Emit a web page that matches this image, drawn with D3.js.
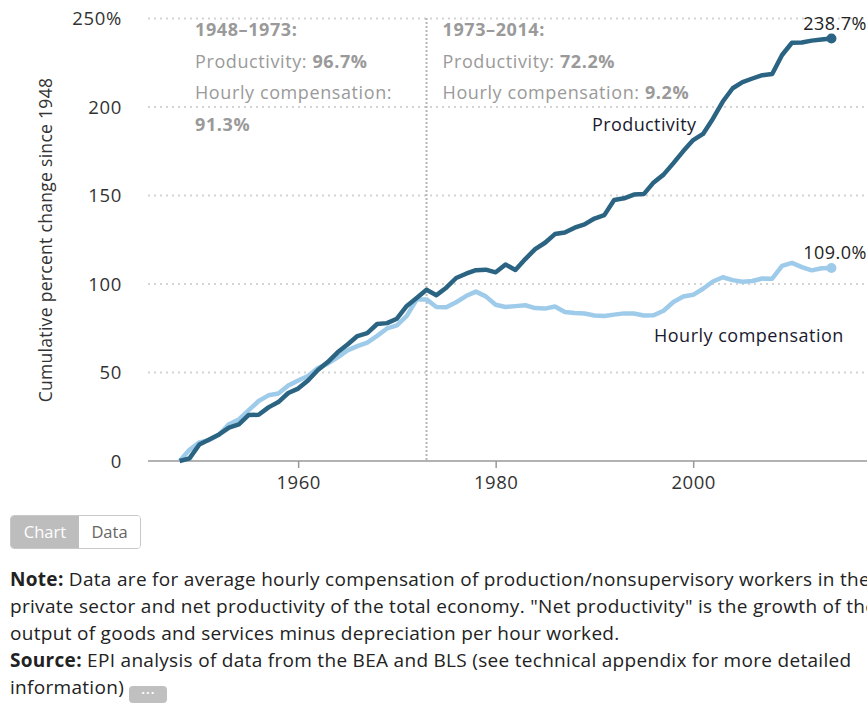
<!DOCTYPE html>
<html>
<head>
<meta charset="utf-8">
<script src="https://cdn.jsdelivr.net/npm/d3@7"></script>
<style>
  body { margin: 0; background: #fff; overflow: hidden; width: 867px; height: 706px; font-family: "Open Sans", sans-serif; }
  #canvas { position: absolute; left: 0; top: 0; }
  .toggle { position: absolute; left: 10px; top: 515px; height: 32px; border: 1px solid #c8c8c8; border-radius: 4px; overflow: hidden; display: flex; font-size: 16.5px; }
  .toggle span { display: block; line-height: 32px; text-align: center; }
  .toggle .on { background: #bdbdbd; color: #fff; width: 68px; }
  .toggle .off { background: #fff; color: #666; width: 61px; }
  .notes { position: absolute; left: 10px; top: 566px; font-size: 19px; letter-spacing: 0.3px; color: #222; line-height: 27px; white-space: nowrap; }
  .notes p { margin: 0; }
  .dots { display: inline-block; width: 38px; height: 17px; background: #c0c0c0; border-radius: 4px; vertical-align: -3px; color: #fff; font-size: 13px; line-height: 13px; text-align: center; letter-spacing: 1px; font-weight: bold; }
</style>
</head>
<body>
<div id="canvas"></div>
<div class="toggle"><span class="on">Chart</span><span class="off">Data</span></div>
<div class="notes">
  <p><b>Note:</b> Data are for average hourly compensation of production/nonsupervisory workers in the<br>private sector and net productivity of the total economy. "Net productivity" is the growth of the<br>output of goods and services minus depreciation per hour worked.</p>
  <p><b>Source:</b> EPI analysis of data from the BEA and BLS (see technical appendix for more detailed<br>information) <span class="dots">···</span></p>
</div>
<script>
// data
const years = d3.range(1948, 2015);
const productivity = [0, 1.5, 9.3, 12.1, 15.0, 18.9, 20.7, 26.0, 26.1, 30.3, 33.3, 38.4, 40.9, 45.5, 51.4, 55.9, 61.4, 65.8, 70.6, 72.2,
  77.4, 77.9, 80.4, 87.6, 92.1, 96.7, 93.7, 97.9, 103.4, 105.8, 107.8, 108.1, 106.6, 111.0, 107.9, 114.1, 119.7, 123.3, 128.2, 129.1,
  131.8, 133.7, 137.0, 138.9, 147.5, 148.4, 150.5, 150.8, 157.4, 161.8, 168.3, 175.1, 181.3, 184.8, 193.4, 203.1, 210.6, 214.1, 216.1,
  218.0, 218.6, 229.4, 236.3, 236.4, 237.5, 238.1, 238.7];
const compensation = [0, 6.3, 10.5, 11.8, 15.0, 20.8, 23.5, 28.7, 33.9, 37.1, 38.1, 42.6, 45.5, 48.0, 52.5, 55.0, 58.5, 62.5, 64.9, 66.9,
  70.7, 74.9, 76.6, 82.0, 91.2, 91.3, 87.0, 86.9, 89.7, 93.2, 95.7, 93.0, 88.3, 87.0, 87.5, 88.0, 86.4, 86.1, 87.3, 84.2,
  83.6, 83.3, 82.2, 81.9, 82.7, 83.4, 83.3, 82.2, 82.3, 84.9, 89.8, 92.9, 93.9, 97.3, 101.4, 103.8, 102.2, 101.3, 101.7,
  103.1, 103.0, 110.2, 111.9, 109.5, 107.7, 108.9, 109.0];
const yTicks = [0, 50, 100, 150, 200, 250];
const xTicks = [1960, 1980, 2000];
const periods = [
  {title: "1948–1973:", prod: "96.7%", comp: "91.3%", wrap: true},
  {title: "1973–2014:", prod: "72.2%", comp: "9.2%", wrap: false}
];

const width = 867, height = 500;
const font = "'Open Sans', sans-serif";
const svg = d3.select("#canvas").append("svg")
  .attr("width", width).attr("height", height)
  .style("font-family", font);

const x = d3.scaleLinear().domain([1945, 2017.6]).range([150, 867]);
const y = d3.scaleLinear().domain([0, 250]).range([461, 18.5]);

// gridlines
svg.append("g").selectAll("line")
  .data(yTicks.filter(d => d > 0))
  .join("line")
  .attr("x1", 148).attr("x2", width)
  .attr("y1", d => y(d)).attr("y2", d => y(d))
  .attr("stroke", "#d4d4d4").attr("stroke-width", 2)
  .attr("stroke-dasharray", "2,4");

// y tick labels
svg.append("g").selectAll("text")
  .data(yTicks)
  .join("text")
  .attr("x", 122).attr("y", d => y(d) + 6.5)
  .attr("text-anchor", "end")
  .attr("font-size", 18.5).attr("letter-spacing", 0.7).attr("fill", "#333")
  .text(d => d === 250 ? "250%" : d);

svg.append("text")
  .attr("transform", "translate(52,240) rotate(-90)")
  .attr("text-anchor", "middle")
  .attr("font-size", 17.5).attr("letter-spacing", 0.3).attr("fill", "#333")
  .text("Cumulative percent change since 1948");

// 1973 divider
svg.append("line")
  .attr("x1", x(1973)).attr("x2", x(1973))
  .attr("y1", 18).attr("y2", 461)
  .attr("stroke", "#b5b5b5").attr("stroke-width", 2)
  .attr("stroke-dasharray", "2,2");

// x axis
const xAxis = svg.append("g")
  .attr("transform", "translate(0,461)")
  .call(d3.axisBottom(x).tickValues(xTicks).tickFormat(d3.format("d")).tickSize(7).tickSizeOuter(0));
xAxis.select(".domain").attr("stroke", "#999").attr("stroke-width", 1.5).attr("d", "M148,0H" + width);
xAxis.selectAll(".tick line").attr("stroke", "#999").attr("stroke-width", 1.5);
xAxis.selectAll(".tick text").attr("font-size", 18.5).attr("letter-spacing", 0.5).attr("fill", "#333").attr("dy", "0.95em")
  .style("font-family", font);

// period annotations
periods.forEach((p, i) => {
  const left = i === 0 ? 195 : x(1973) + 16;
  const g = svg.append("g").attr("font-size", 18).attr("letter-spacing", 0.6).attr("fill", "#9a9a9a");
  g.append("text").attr("x", left).attr("y", 36).attr("font-weight", "bold").text(p.title);
  const t2 = g.append("text").attr("x", left).attr("y", 68);
  t2.append("tspan").text("Productivity: ");
  t2.append("tspan").attr("font-weight", "bold").text(p.prod);
  const t3 = g.append("text").attr("x", left).attr("y", 99);
  if (p.wrap) {
    t3.text("Hourly compensation:");
    g.append("text").attr("x", left).attr("y", 131).attr("font-weight", "bold").text(p.comp);
  } else {
    t3.append("tspan").text("Hourly compensation: ");
    t3.append("tspan").attr("font-weight", "bold").text(p.comp);
  }
});

// lines
const line = vals => d3.line().x((d, i) => x(years[i])).y(d => y(d))(vals);
svg.append("path").attr("d", line(compensation))
  .attr("fill", "none").attr("stroke", "#9fcbea").attr("stroke-width", 4.5).attr("stroke-linejoin", "round");
svg.append("path").attr("d", line(productivity))
  .attr("fill", "none").attr("stroke", "#2a6482").attr("stroke-width", 4.5).attr("stroke-linejoin", "round");

const last = years.length - 1;
svg.append("circle").attr("cx", x(years[last])).attr("cy", y(compensation[last])).attr("r", 5).attr("fill", "#9fcbea");
svg.append("circle").attr("cx", x(years[last])).attr("cy", y(productivity[last])).attr("r", 5).attr("fill", "#2a6482");

svg.append("text").attr("x", 867).attr("y", y(productivity[last]) - 9).attr("text-anchor", "end")
  .attr("font-size", 18).attr("letter-spacing", 0.5).attr("fill", "#222").text(productivity[last].toFixed(1) + "%");
svg.append("text").attr("x", 867).attr("y", y(compensation[last]) - 9).attr("text-anchor", "end")
  .attr("font-size", 18).attr("letter-spacing", 0.5).attr("fill", "#222").text(compensation[last].toFixed(1) + "%");

// series labels
svg.append("text").attr("x", 592).attr("y", 131).attr("font-size", 18).attr("letter-spacing", 0.4).attr("fill", "#1a1a2e").text("Productivity");
svg.append("text").attr("x", 654).attr("y", 342).attr("font-size", 18).attr("letter-spacing", 0.5).attr("fill", "#1a1a2e").text("Hourly compensation");
</script>
</body>
</html>
